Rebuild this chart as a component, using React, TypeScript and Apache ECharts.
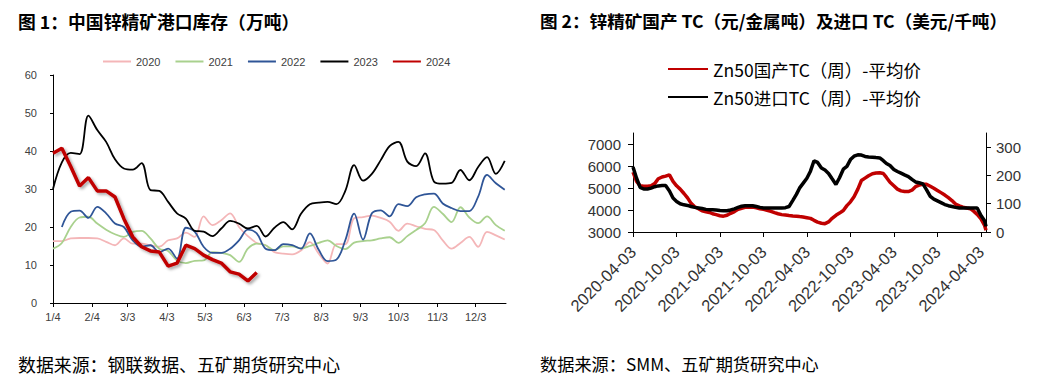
import React, { useEffect, useRef } from "react";
import * as echarts from "echarts";

const CJK = "'Noto Sans CJK SC', 'Noto Sans', sans-serif";
const NUM = "'Liberation Sans', Arial, sans-serif";

// ---------- Chart 1: port inventory (10k t), weekly, x = days since 1/4 ----------
const weekDays = [
  0, 7, 14, 21, 28, 35, 42, 49, 56, 63, 70, 77, 84, 91, 98, 105, 112, 119, 126, 133,
  140, 147, 154, 161, 168, 175, 182, 189, 196, 203, 210, 217, 224, 231, 238, 245, 252,
  259, 266, 273, 280, 287, 294, 301, 308, 315, 322, 329, 336, 343, 350, 357,
];
const inv2020 = [
  16.3, 16.3, 17.0, 17.1, 17.1, 17.0, 16.1, 15.2, 17.0, 15.6, 15.6, 15.2, 14.8, 16.5, 17.0,
  18.5, 17.4, 22.8, 20.5, 21.8, 23.6, 20.0, 17.6, 15.8, 15.2, 13.4, 13.0, 12.8, 13.8, 16.0,
  13.0, 10.4, 15.5, 15.5, 22.3, 22.6, 23.0, 22.4, 21.4, 19.0, 20.9, 20.2, 19.5, 19.2, 16.5,
  14.3, 15.8, 17.4, 14.8, 18.7, 17.8, 16.7,
];
const inv2021 = [
  14.3, 15.8, 20.0, 22.5, 22.7, 20.9, 19.3, 18.1, 17.4, 18.7, 19.0, 17.0, 14.3, 13.7, 11.2,
  10.5, 11.1, 11.2, 13.4, 13.2, 12.6, 10.8, 14.3, 15.6, 15.2, 13.9, 14.9, 14.9, 14.4, 15.0,
  15.8, 16.5, 15.0, 14.2, 15.9, 16.3, 16.5, 17.0, 17.3, 15.8, 17.6, 19.2, 21.0, 25.3, 23.5,
  21.3, 25.2, 22.5, 21.0, 22.8, 20.5, 19.0,
];
const inv2022 = [
  null, 20.0, 24.0, 24.3, 22.4, 25.3, 23.6, 20.9, 20.0, 16.5, 14.8, 15.2, 13.4, 14.3, 11.7,
  19.8, 18.8, 14.8, 13.2, 13.2, 14.3, 16.5, 19.3, 18.3, 14.3, 13.9, 15.5, 15.2, 14.3, 18.3,
  14.0, 11.0, 11.4, 16.5, 23.5, 16.7, 23.6, 24.4, 22.8, 26.0, 25.5, 27.8, 28.6, 28.8, 26.2,
  25.0, 24.2, 24.2, 28.0, 33.7, 31.5, 29.8,
];
const inv2023 = [
  30.0, 37.0, 39.5, 39.2, 49.3, 45.5, 42.4, 37.8, 35.4, 35.1, 36.8, 29.7, 29.5, 26.6, 23.6,
  22.2, 19.0, 18.8, 17.6, 19.6, 21.6, 20.9, 19.6, 20.3, 17.5, 19.8, 21.3, 19.4, 23.5, 26.0,
  26.4, 26.6, 26.0, 29.5, 36.3, 32.2, 34.0, 37.6, 41.3, 42.4, 37.2, 36.0, 39.4, 32.0, 31.4,
  31.6, 35.0, 32.3, 35.8, 38.4, 34.0, 37.4,
];
const inv2024 = [
  39.4, 40.7, 35.9, 30.8, 33.0, 29.5, 29.5, 27.9, 22.2, 17.4, 14.8, 13.7, 13.4, 9.7, 10.5,
  15.2, 14.3, 12.6, 11.4, 10.5, 8.2, 7.6, 5.8, 8.0,
];
const monthTickDays = [0, 31, 59, 90, 120, 151, 181, 212, 243, 273, 304, 334];
const monthTickLabels = ["1/4", "2/4", "3/3", "4/3", "5/3", "6/3", "7/3", "8/3", "9/3", "10/3", "11/3", "12/3"];
const yearNames = ["2020", "2021", "2022", "2023", "2024"];

// ---------- Chart 2: TC, semi-monthly samples ----------
const tcDates = [
  "2020-04-03", "2020-04-18", "2020-05-03", "2020-05-18", "2020-06-03", "2020-06-18",
  "2020-07-03", "2020-07-18", "2020-08-03", "2020-08-18", "2020-09-03", "2020-09-18",
  "2020-10-03", "2020-10-18", "2020-11-03", "2020-11-18", "2020-12-03", "2020-12-18",
  "2021-01-03", "2021-01-18", "2021-02-03", "2021-02-18", "2021-03-03", "2021-03-18",
  "2021-04-03", "2021-04-18", "2021-05-03", "2021-05-18", "2021-06-03", "2021-06-18",
  "2021-07-03", "2021-07-18", "2021-08-03", "2021-08-18", "2021-09-03", "2021-09-18",
  "2021-10-03", "2021-10-18", "2021-11-03", "2021-11-18", "2021-12-03", "2021-12-18",
  "2022-01-03", "2022-01-18", "2022-02-03", "2022-02-18", "2022-03-03", "2022-03-18",
  "2022-04-03", "2022-04-18", "2022-05-03", "2022-05-18", "2022-06-03", "2022-06-18",
  "2022-07-03", "2022-07-18", "2022-08-03", "2022-08-18", "2022-09-03", "2022-09-18",
  "2022-10-03", "2022-10-18", "2022-11-03", "2022-11-18", "2022-12-03", "2022-12-18",
  "2023-01-03", "2023-01-18", "2023-02-03", "2023-02-18", "2023-03-03", "2023-03-18",
  "2023-04-03", "2023-04-18", "2023-05-03", "2023-05-18", "2023-06-03", "2023-06-18",
  "2023-07-03", "2023-07-18", "2023-08-03", "2023-08-18", "2023-09-03", "2023-09-18",
  "2023-10-03", "2023-10-18", "2023-11-03", "2023-11-18", "2023-12-03", "2023-12-18",
  "2024-01-03", "2024-01-18", "2024-02-03", "2024-02-18", "2024-03-03", "2024-03-18",
  "2024-04-03", "2024-04-18", "2024-04-24",
];
const domesticTC = [
  5720, 5300, 5100, 5080, 5080, 5100, 5200, 5420, 5500, 5540, 5600, 5300, 5100, 4950, 4750, 4550, 4300, 4150,
  4060, 3960, 3920, 3890, 3830, 3790, 3740, 3720, 3760, 3850, 3930, 4030, 4080, 4120, 4130, 4130, 4100, 4060, 4030, 3990, 3940, 3880, 3830, 3790,
  3770, 3750, 3730, 3720, 3700, 3680, 3650, 3620, 3530, 3450, 3400, 3380, 3460, 3620, 3760, 3860, 3980, 4200, 4370, 4600, 4950, 5340, 5450, 5560,
  5650, 5680, 5690, 5660, 5480, 5260, 5100, 4950, 4870, 4840, 4840, 4900, 5060, 5130, 5170, 5170, 5080, 4990, 4890, 4790, 4680, 4560, 4430, 4270,
  4190, 4130, 4090, 4060, 3950, 3800, 3600, 3300, 3080,
];
const importTC = [
  230, 190, 158, 152, 152, 155, 160, 163, 164, 164, 145, 120, 108, 100, 96, 94, 90, 87,
  85, 83, 80, 79, 79, 78, 76, 75, 75, 78, 82, 87, 91, 93, 93, 93, 90, 87, 85, 85, 85, 85, 85, 85,
  86, 90, 112, 133, 155, 172, 190, 215, 252, 246, 226, 219, 207, 188, 168, 192, 222, 232, 256, 268, 273, 272, 267, 265,
  264, 263, 262, 252, 242, 235, 221, 214, 208, 202, 196, 186, 177, 174, 170, 150, 126, 116, 110, 104, 97, 93, 90, 87,
  85, 85, 85, 85, 85, 85, 58, 40, 20,
];
const tcTickLabels = [
  "2020-04-03", "2020-10-03", "2021-04-03", "2021-10-03", "2022-04-03",
  "2022-10-03", "2023-04-03", "2023-10-03", "2024-04-03",
];
const leftTcTicks = [3000, 4000, 5000, 6000, 7000];
const rightTcTicks = [0, 100, 200, 300];
const tcNames = ["Zn50国产TC（周）-平均价", "Zn50进口TC（周）-平均价"];

const ts = (s: string) => Date.parse(s + "T00:00:00Z");

export default function App() {
  const ref = useRef<HTMLDivElement>(null);
  useEffect(() => {
    if (!ref.current) return;
    const chart = echarts.init(ref.current, undefined, { renderer: "svg" });
    const tcTickValues = tcTickLabels.map(ts);
    const yearColors = ["#F4B6B8", "#A9D18E", "#2F5597", "#000000", "#C00000"];
    const yearData = [inv2020, inv2021, inv2022, inv2023, inv2024];
    const yearWidths = [1.8, 1.8, 1.8, 1.8, 3.5];

    const invSeries = yearNames.map((name, k) => ({
      name,
      type: "line",
      xAxisIndex: 0,
      yAxisIndex: 0,
      symbol: "none",
      smooth: k === 4 ? false : 0.35,
      data: yearData[k]
        .map((v, i) => [weekDays[i], v])
        .filter((p) => p[1] !== null && p[1] !== undefined),
      lineStyle: {
        color: yearColors[k],
        width: yearWidths[k],
        ...(k === 4
          ? { shadowColor: "rgba(0,0,0,0.35)", shadowBlur: 3, shadowOffsetX: 2, shadowOffsetY: 2 }
          : {}),
      },
      itemStyle: { color: yearColors[k] },
      z: 2 + k,
    }));

    const plain = (v: number) => String(v);

    const option: any = {
      animation: false,
      backgroundColor: "#ffffff",
      textStyle: { fontFamily: NUM },
      title: [
        {
          text: "图 1：中国锌精矿港口库存（万吨）",
          left: 18, top: 12, padding: 0,
          textStyle: { fontFamily: CJK, fontSize: 17.8, fontWeight: "bold", color: "#000" },
        },
        {
          text: "图 2：锌精矿国产 TC（元/金属吨）及进口 TC（美元/千吨）",
          left: 540, top: 12, padding: 0,
          textStyle: { fontFamily: CJK, fontSize: 17.6, fontWeight: "bold", color: "#000" },
        },
        {
          text: "数据来源：钢联数据、五矿期货研究中心",
          left: 18, top: 355, padding: 0,
          textStyle: { fontFamily: CJK, fontSize: 17.9, fontWeight: "normal", color: "#000" },
        },
        {
          text: "数据来源：SMM、五矿期货研究中心",
          left: 540, top: 355, padding: 0,
          textStyle: { fontFamily: CJK, fontSize: 17.2, fontWeight: "normal", color: "#000" },
        },
      ],
      legend: [
        {
          data: yearNames,
          left: 102, top: 56, padding: 0,
          itemWidth: 28, itemHeight: 10, itemGap: 14,
          itemStyle: { opacity: 0 },
          textStyle: { fontFamily: NUM, fontSize: 11, color: "#404040" },
        },
        {
          data: tcNames,
          orient: "vertical",
          left: 667, top: 60, padding: 0,
          itemWidth: 40, itemHeight: 14, itemGap: 10,
          itemStyle: { opacity: 0 },
          textStyle: { fontFamily: CJK, fontSize: 17.5, color: "#000", lineHeight: 18 },
        },
      ],
      grid: [
        { left: 53, top: 75, width: 453, height: 228 },
        { left: 633, top: 133, width: 353, height: 99 },
      ],
      xAxis: [
        {
          gridIndex: 0, type: "value", min: 0, max: 358,
          axisLine: { show: true, lineStyle: { color: "#000", width: 1 } },
          axisTick: { show: true, customValues: monthTickDays, length: 4, lineStyle: { color: "#000" } },
          axisLabel: {
            customValues: monthTickDays,
            formatter: (v: number) => monthTickLabels[monthTickDays.indexOf(v)] ?? "",
            fontSize: 11, color: "#404040", margin: 8, fontFamily: NUM,
          },
          splitLine: { show: false },
        },
        {
          gridIndex: 1, type: "value", min: ts("2020-04-03"), max: ts("2024-04-24"),
          axisLine: { show: true, lineStyle: { color: "#000", width: 1 } },
          axisTick: { show: true, customValues: tcTickValues, length: 5, lineStyle: { color: "#000" } },
          axisLabel: {
            customValues: tcTickValues,
            formatter: (v: number) => tcTickLabels[tcTickValues.indexOf(v)] ?? "",
            rotate: 45, fontSize: 16.5, color: "#333", margin: 17, fontFamily: NUM,
          },
          splitLine: { show: false },
        },
      ],
      yAxis: [
        {
          gridIndex: 0, type: "value", min: 0, max: 60, interval: 10,
          axisLine: { show: true, lineStyle: { color: "#000", width: 1 } },
          axisTick: { show: true, length: 3, lineStyle: { color: "#000" } },
          axisLabel: { fontSize: 11, color: "#404040", margin: 16, fontFamily: NUM, formatter: plain },
          splitLine: { show: false },
        },
        {
          gridIndex: 1, type: "value", min: 3000, max: 7500,
          axisLine: { show: true, lineStyle: { color: "#000", width: 1 } },
          axisTick: { show: true, customValues: leftTcTicks, length: 5, lineStyle: { color: "#000" } },
          axisLabel: { customValues: leftTcTicks, fontSize: 15, color: "#333", margin: 12, fontFamily: NUM, formatter: plain },
          splitLine: { show: false },
        },
        {
          gridIndex: 1, type: "value", position: "right", min: 0, max: 350,
          axisLine: { show: true, lineStyle: { color: "#000", width: 1 } },
          axisTick: { show: true, customValues: rightTcTicks, length: 5, lineStyle: { color: "#000" } },
          axisLabel: { customValues: rightTcTicks, fontSize: 15, color: "#333", margin: 10, fontFamily: NUM, formatter: plain },
          splitLine: { show: false },
        },
      ],
      series: [
        ...invSeries,
        {
          name: tcNames[0], type: "line", xAxisIndex: 1, yAxisIndex: 1, symbol: "none",
          data: domesticTC.map((v, i) => [ts(tcDates[i]), v]),
          lineStyle: { color: "#C00000", width: 3.5 },
          itemStyle: { color: "#C00000" },
          z: 3,
        },
        {
          name: tcNames[1], type: "line", xAxisIndex: 1, yAxisIndex: 2, symbol: "none",
          data: importTC.map((v, i) => [ts(tcDates[i]), v]),
          lineStyle: { color: "#000000", width: 3.5 },
          itemStyle: { color: "#000000" },
          z: 4,
        },
      ],
    };
    chart.setOption(option);
    return () => chart.dispose();
  }, []);
  return (
    <div style={{ position: "fixed", left: 0, top: 0, width: 1042, height: 384, background: "#fff" }}>
      <div ref={ref} style={{ width: 1042, height: 384 }} />
    </div>
  );
}
